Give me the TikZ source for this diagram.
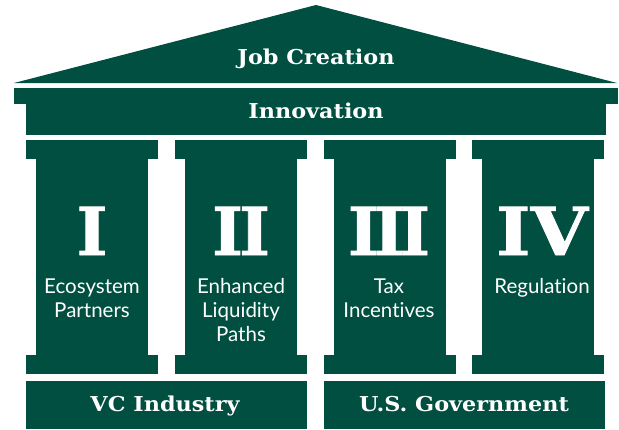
\documentclass[tikz,border=0pt]{standalone}
\usepackage{fontspec}
\setsansfont[Ligatures={NoCommon,NoRare}]{Lato}
\newfontfamily\headfont[FakeStretch=1.09]{DejaVu Serif}
\newfontfamily\romanfont[FakeBold=1.2]{DejaVu Serif}
\usetikzlibrary{positioning}
\definecolor{pillargreen}{RGB}{1,79,64}

\begin{document}
\begin{tikzpicture}[x=1pt, y=-1pt, slab/.style={fill=pillargreen, inner sep=0pt, outer sep=0pt, anchor=north west}, heading/.style={text=white, inner sep=0pt, font=\headfont\bfseries\fontsize{20.5}{24}\selectfont}, numeral/.style={text=white, inner sep=0pt, font=\romanfont\bfseries\fontsize{66}{66}\selectfont}, caption/.style={text=white, inner sep=0pt, align=center, font=\sffamily\fontsize{20.5}{24}\selectfont}]
\useasboundingbox (0,0) rectangle (619,429);
% roof and beam
\fill[pillargreen] (14,83) -- (316,5) -- (617,83) -- cycle;
\node[heading, anchor=base] (jobs) at (316,64) {Job Creation};
\node[slab, minimum width=604pt, minimum height=16pt] (beam) at (14,88) {};
\node[slab, minimum width=580pt, minimum height=31pt] (frieze) at (26,104) {};
\node[heading, anchor=base] (innovation) at (316,118) {Innovation};
% pillar I
\node[slab, minimum width=132pt, minimum height=19pt] (cap1) at (26,140) {};
\node[slab, minimum width=112pt, minimum height=196pt] (shaft1) at (36,159) {};
\node[slab, minimum width=132pt, minimum height=19pt] (foot1) at (26,355) {};
\node[numeral, anchor=base] (num1) at (92,255) {I};
\node[caption, below=23pt of num1] (txt1) {Ecosystem\\Partners};
% pillar II
\node[slab, minimum width=132pt, minimum height=19pt] (cap2) at (175,140) {};
\node[slab, minimum width=112pt, minimum height=196pt] (shaft2) at (185,159) {};
\node[slab, minimum width=132pt, minimum height=19pt] (foot2) at (175,355) {};
\node[numeral, anchor=base] (num2) at (241,255) {\addfontfeature{LetterSpace=-6}II};
\node[caption, below=23pt of num2] (txt2) {Enhanced\\Liquidity\\Paths};
% pillar III
\node[slab, minimum width=132pt, minimum height=19pt] (cap3) at (324,140) {};
\node[slab, minimum width=112pt, minimum height=196pt] (shaft3) at (334,159) {};
\node[slab, minimum width=132pt, minimum height=19pt] (foot3) at (324,355) {};
\node[numeral, anchor=base] (num3) at (389,255) {\addfontfeature{LetterSpace=-8}III};
\node[caption, below=23pt of num3] (txt3) {Tax\\Incentives};
% pillar IV
\node[slab, minimum width=132pt, minimum height=19pt] (cap4) at (472,140) {};
\node[slab, minimum width=112pt, minimum height=196pt] (shaft4) at (482,159) {};
\node[slab, minimum width=132pt, minimum height=19pt] (foot4) at (472,355) {};
\node[numeral, anchor=base] (num4) at (542,255) {\addfontfeature{FakeStretch=1.12}IV};
\node[caption, below=23pt of num4] (txt4) {Regulation};
% foundation
\node[slab, minimum width=281pt, minimum height=48pt] (vc) at (26,381) {};
\node[heading, anchor=base] (vclabel) at (165,411) {VC Industry};
\node[slab, minimum width=281pt, minimum height=48pt] (gov) at (324,381) {};
\node[heading, anchor=base] (govlabel) at (464,411) {U.S. Government};
\end{tikzpicture}
\end{document}
